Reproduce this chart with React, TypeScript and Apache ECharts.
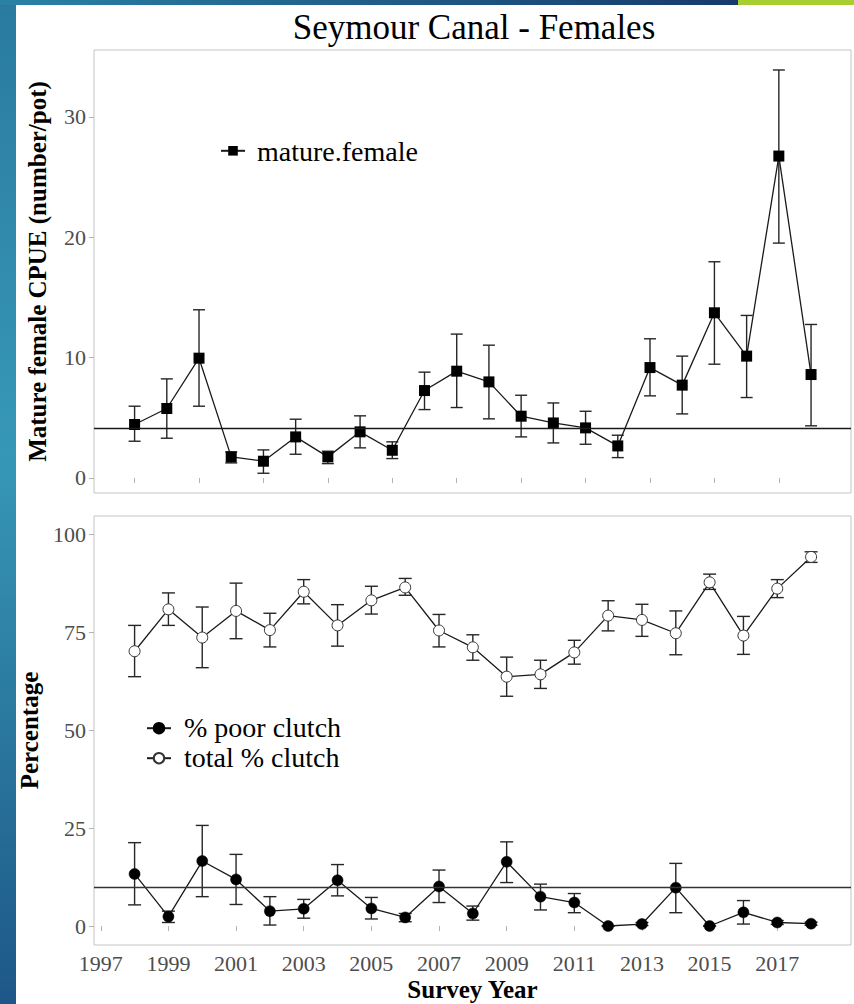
import React, { useEffect, useRef } from "react";
import * as echarts from "echarts";

// ---------- data ----------
const cpueYears = [1997, 1998, 1999, 2000, 2001, 2002, 2003, 2004, 2005, 2006, 2007, 2008, 2009, 2010, 2011, 2012, 2013, 2014, 2015, 2016, 2017, 2018];
const cpueMean = [4.44, 5.77, 9.95, 1.75, 1.39, 3.41, 1.75, 3.83, 2.3, 7.26, 8.87, 7.98, 5.13, 4.57, 4.16, 2.66, 9.17, 7.71, 13.72, 10.12, 26.74, 8.59];
const cpueLow = [3.05, 3.3, 5.96, 1.25, 0.39, 1.97, 1.19, 2.5, 1.61, 5.68, 5.85, 4.91, 3.41, 2.91, 2.8, 1.69, 6.82, 5.32, 9.45, 6.68, 19.51, 4.33];
const cpueHigh = [5.96, 8.23, 13.97, 2.16, 2.33, 4.88, 2.22, 5.16, 3.0, 8.79, 11.95, 11.03, 6.87, 6.23, 5.54, 3.55, 11.56, 10.12, 17.96, 13.5, 33.89, 12.75];
const cpueBaseline = 4.16;
const cpueTickYears = [1997, 1999, 2001, 2003, 2005, 2007, 2009, 2011, 2013, 2015, 2017];
const cpueYTicks = [0, 10, 20, 30];

const clutchYears = [1998, 1999, 2000, 2001, 2002, 2003, 2004, 2005, 2006, 2007, 2008, 2009, 2010, 2011, 2012, 2013, 2014, 2015, 2016, 2017, 2018];
const totalClutch = [70.2, 80.9, 73.7, 80.5, 75.6, 85.4, 76.8, 83.2, 86.5, 75.5, 71.2, 63.7, 64.3, 69.9, 79.3, 78.2, 74.8, 87.8, 74.2, 86.2, 94.3];
const totalLow = [63.7, 76.8, 66.0, 73.4, 71.3, 82.3, 71.5, 79.7, 84.5, 71.3, 67.9, 58.7, 60.7, 66.9, 75.4, 74.0, 69.3, 86.0, 69.4, 83.9, 92.9];
const totalHigh = [76.8, 85.1, 81.5, 87.6, 79.9, 88.5, 82.1, 86.8, 88.8, 79.6, 74.4, 68.7, 67.9, 73.0, 83.1, 82.2, 80.5, 89.9, 79.1, 88.5, 95.6];
const poorClutch = [13.3, 2.4, 16.6, 11.9, 3.8, 4.4, 11.7, 4.5, 2.2, 10.1, 3.2, 16.4, 7.5, 6.0, 0, 0.5, 9.8, 0, 3.5, 0.9, 0.6];
const poorLow = [5.4, 0.9, 7.5, 5.5, 0.25, 2.0, 7.7, 1.8, 1.1, 6.0, 1.5, 11.1, 4.1, 3.4, 0, 0.1, 3.4, 0, 0.5, 0.4, 0.2];
const poorHigh = [21.3, 3.8, 25.7, 18.3, 7.5, 6.8, 15.7, 7.3, 3.2, 14.3, 5.1, 21.5, 10.7, 8.3, 0, 0.9, 16.0, 0, 6.5, 1.4, 1.0];
const poorBaseline = 10;
const clutchTickYears = [1997, 1999, 2001, 2003, 2005, 2007, 2009, 2011, 2013, 2015, 2017];
const clutchYTicks = [0, 25, 50, 75, 100];

const titleText = "Seymour Canal - Females";
const cpueName = "mature.female";
const poorName = "% poor clutch";
const totalName = "total % clutch";

// ---------- styles ----------
const SERIF = "Liberation Serif";
const INK = "#1a1a1a";
const GREY_TEXT = "#4d4d4d";
const GREY_LINE = "#c4c4c4";

function errorBars(name: string, xi: number, yi: number, years: number[], lo: number[], hi: number[], cap: number) {
  return {
    type: "custom",
    name,
    xAxisIndex: xi,
    yAxisIndex: yi,
    z: 1,
    silent: true,
    encode: { x: 0, y: [1, 2] },
    data: years.map((y, i) => [y, lo[i], hi[i]]),
    renderItem: (params: any, api: any) => {
      const x = api.value(0);
      const a = api.coord([x, api.value(1)]);
      const b = api.coord([x, api.value(2)]);
      const hw = cap / 2;
      const style = { stroke: "#262626", lineWidth: 1.4 };
      return {
        type: "group",
        children: [
          { type: "line", shape: { x1: a[0], y1: a[1], x2: b[0], y2: b[1] }, style },
          { type: "line", shape: { x1: a[0] - hw, y1: a[1], x2: a[0] + hw, y2: a[1] }, style },
          { type: "line", shape: { x1: b[0] - hw, y1: b[1], x2: b[0] + hw, y2: b[1] }, style },
        ],
      };
    },
  };
}

function xAxisBase(gridIndex: number, min: number, max: number, ticks: number[], showLabels: boolean) {
  return {
    type: "value",
    gridIndex,
    min,
    max,
    splitLine: { show: false },
    axisLine: { show: false },
    axisTick: { show: true, length: 5, lineStyle: { color: "#b3b3b3", width: 1 }, customValues: ticks },
    axisLabel: {
      show: showLabels,
      customValues: ticks,
      color: GREY_TEXT,
      fontFamily: SERIF,
      fontSize: 22,
      margin: 7,
      formatter: (v: number) => String(v),
    },
  };
}

function yAxisBase(gridIndex: number, min: number, max: number, ticks: number[], name: string) {
  return {
    type: "value",
    gridIndex,
    min,
    max,
    name,
    nameLocation: "middle",
    nameGap: 44,
    nameTextStyle: { fontFamily: SERIF, fontWeight: "bold", fontSize: 25, color: "#000" },
    splitLine: { show: false },
    axisLine: { show: false },
    axisTick: { show: true, length: 5, lineStyle: { color: "#b3b3b3", width: 1 }, customValues: ticks },
    axisLabel: {
      customValues: ticks,
      color: GREY_TEXT,
      fontFamily: SERIF,
      fontSize: 22,
      margin: 8,
      formatter: (v: number) => String(v),
    },
  };
}

function iconLegend(name: string, left: number, top: number, itemHeight: number) {
  return {
    data: [name],
    left,
    top,
    padding: 0,
    itemWidth: 24,
    itemHeight,
    selectedMode: false,
    formatter: () => "",
    textStyle: { fontSize: itemHeight, lineHeight: itemHeight },
  };
}

function legendLabel(text: string, x: number, y: number) {
  return {
    type: "text",
    x,
    y,
    style: { text, fontFamily: SERIF, fontSize: 28, fill: "#000", align: "left", verticalAlign: "middle" },
  };
}

export default function App() {
  const ref = useRef<HTMLDivElement>(null);

  useEffect(() => {
    if (!ref.current) return;
    const chart = echarts.init(ref.current, undefined, { renderer: "svg" });

    const option: any = {
      animation: false,
      backgroundColor: "#ffffff",
      textStyle: { fontFamily: SERIF },
      graphic: [
        {
          type: "rect",
          z: 100,
          shape: { x: 0, y: 0, width: 16, height: 1004 },
          style: {
            fill: new echarts.graphic.LinearGradient(0, 0, 0, 1, [
              { offset: 0, color: "#2a7aa0" },
              { offset: 0.45, color: "#3798b6" },
              { offset: 1, color: "#1d5788" },
            ]),
          },
        },
        {
          type: "rect",
          z: 100,
          shape: { x: 0, y: 0, width: 738, height: 5 },
          style: {
            fill: new echarts.graphic.LinearGradient(0, 0, 1, 0, [
              { offset: 0, color: "#2a82a6" },
              { offset: 1, color: "#163a6c" },
            ]),
          },
        },
        {
          type: "rect",
          z: 100,
          shape: { x: 738, y: 0, width: 116, height: 5 },
          style: { fill: "#a8cf32" },
        },
        {
          type: "text",
          x: 474,
          y: 27,
          style: {
            text: titleText,
            fontFamily: SERIF,
            fontSize: 35,
            fill: "#000",
            align: "center",
            verticalAlign: "middle",
          },
        },
        legendLabel(cpueName, 257, 151),
        legendLabel(poorName, 184, 727),
        legendLabel(totalName, 184, 757),
      ],
      grid: [
        { left: 94, right: 3, top: 50, height: 443, show: true, borderColor: GREY_LINE, borderWidth: 1, backgroundColor: "transparent" },
        { left: 94, right: 3, top: 516, height: 429, show: true, borderColor: GREY_LINE, borderWidth: 1, backgroundColor: "transparent" },
      ],
      xAxis: [
        xAxisBase(0, 1995.74, 2019.24, cpueTickYears, false),
        {
          ...xAxisBase(1, 1996.8, 2019.18, clutchTickYears, true),
          name: "Survey Year",
          nameLocation: "middle",
          nameGap: 32,
          nameTextStyle: { fontFamily: SERIF, fontWeight: "bold", fontSize: 25, color: "#000" },
        },
      ],
      yAxis: [
        yAxisBase(0, -1.25, 35.55, cpueYTicks, "Mature female CPUE (number/pot)"),
        yAxisBase(1, -4.85, 104.75, clutchYTicks, "Percentage"),
      ],
      legend: [
        iconLegend(cpueName, 220, 146, 12),
        iconLegend(poorName, 146, 722, 13),
        iconLegend(totalName, 146, 752, 13),
      ],
      series: [
        errorBars("cpue-err", 0, 0, cpueYears, cpueLow, cpueHigh, 12),
        {
          type: "line",
          name: cpueName,
          xAxisIndex: 0,
          yAxisIndex: 0,
          z: 3,
          data: cpueYears.map((y, i) => [y, cpueMean[i]]),
          symbol: "rect",
          symbolSize: 11,
          showAllSymbol: true,
          lineStyle: { color: INK, width: 1.3 },
          itemStyle: { color: "#000", borderWidth: 0 },
          markLine: {
            silent: true,
            symbol: "none",
            label: { show: false },
            lineStyle: { color: INK, type: "solid", width: 1.3 },
            data: [{ yAxis: cpueBaseline }],
          },
        },
        errorBars("total-err", 1, 1, clutchYears, totalLow, totalHigh, 13),
        errorBars("poor-err", 1, 1, clutchYears, poorLow, poorHigh, 13),
        {
          type: "line",
          name: poorName,
          xAxisIndex: 1,
          yAxisIndex: 1,
          z: 3,
          data: clutchYears.map((y, i) => [y, poorClutch[i]]),
          symbol: "circle",
          symbolSize: 11,
          showAllSymbol: true,
          lineStyle: { color: INK, width: 1.3 },
          itemStyle: { color: "#000", borderColor: "#000", borderWidth: 0.5 },
          markLine: {
            silent: true,
            symbol: "none",
            label: { show: false },
            lineStyle: { color: "#333", type: "solid", width: 1.4 },
            data: [{ yAxis: poorBaseline }],
          },
        },
        {
          type: "line",
          name: totalName,
          xAxisIndex: 1,
          yAxisIndex: 1,
          z: 3,
          data: clutchYears.map((y, i) => [y, totalClutch[i]]),
          symbol: "circle",
          symbolSize: 11,
          showAllSymbol: true,
          lineStyle: { color: INK, width: 1.3 },
          itemStyle: { color: "#ffffff", borderColor: "#333", borderWidth: 1 },
        },
      ],
    };

    chart.setOption(option);
    return () => chart.dispose();
  }, []);

  return <div ref={ref} style={{ position: "fixed", left: 0, top: 0, width: 854, height: 1004 }} />;
}
